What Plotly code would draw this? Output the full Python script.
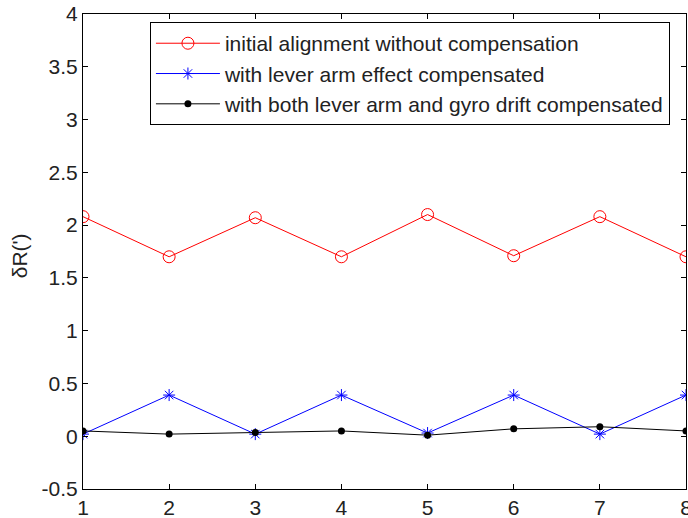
import plotly.graph_objects as go

runs = [1, 2, 3, 4, 5, 6, 7, 8]
no_comp = [2.08, 1.70, 2.07, 1.70, 2.10, 1.71, 2.08, 1.70]
lever_comp = [0.02, 0.39, 0.02, 0.39, 0.03, 0.39, 0.02, 0.39]
both_comp = [0.05, 0.02, 0.035, 0.05, 0.01, 0.07, 0.09, 0.05]
names = ["initial alignment without compensation",
         "with lever arm effect compensated",
         "with both lever arm and gyro drift compensated"]
y_ticks = [-0.5, 0, 0.5, 1, 1.5, 2, 2.5, 3, 3.5, 4]
y_ticktext = ["-0.5", "0", "0.5", "1", "1.5", "2", "2.5", "3", "3.5", "4"]
y_title = "δR(')"

FONT = "Liberation Sans, Arial, sans-serif"

fig = go.Figure()
fig.add_trace(go.Scatter(x=runs, y=no_comp, name=names[0], mode="lines+markers",
                         line=dict(color="#ff0000", width=1),
                         marker=dict(symbol="circle-open", size=12, color="#ff0000", line=dict(width=1))))
fig.add_trace(go.Scatter(x=runs, y=lever_comp, name=names[1], mode="lines+markers",
                         line=dict(color="#0000ff", width=1),
                         marker=dict(symbol="asterisk-open", size=10, color="#0000ff", line=dict(width=1, color="#0000ff"))))
fig.add_trace(go.Scatter(x=runs, y=both_comp, name=names[2], mode="lines+markers",
                         line=dict(color="#000000", width=1),
                         marker=dict(symbol="circle", size=7, color="#000000")))

axis_common = dict(showgrid=False, zeroline=False, showline=True, linecolor="black", linewidth=1,
                   mirror="ticks", ticks="inside", ticklen=5, tickcolor="black", automargin=False,
                   ticklabeloverflow="allow",
                   tickfont=dict(family=FONT, size=21, color="#222222"))

fig.update_layout(
    width=688, height=518,
    margin=dict(l=83, r=2, t=14, b=29, autoexpand=False),
    paper_bgcolor="white", plot_bgcolor="white",
    font=dict(family=FONT, color="#222222"),
    xaxis=dict(range=[1, 8], tickvals=runs, **axis_common),
    yaxis=dict(range=[-0.5, 4], tickvals=y_ticks, ticktext=y_ticktext, **axis_common),
    legend=dict(x=0.111, y=0.983, xanchor="left", yanchor="top",
                bgcolor="white", bordercolor="black", borderwidth=1,
                font=dict(family=FONT, size=21, color="#222222"),
                itemwidth=64, tracegroupgap=0),
    showlegend=True,
    annotations=[dict(text=y_title, xref="paper", yref="paper", x=0, y=0.49,
                      xanchor="center", yanchor="middle", xshift=-64, textangle=-90,
                      showarrow=False, font=dict(family=FONT, size=21, color="#222222"))],
)

fig.write_html("out.html", config={"displayModeBar": False},
               post_script="document.body.style.margin='0';document.body.style.overflow='hidden';")
